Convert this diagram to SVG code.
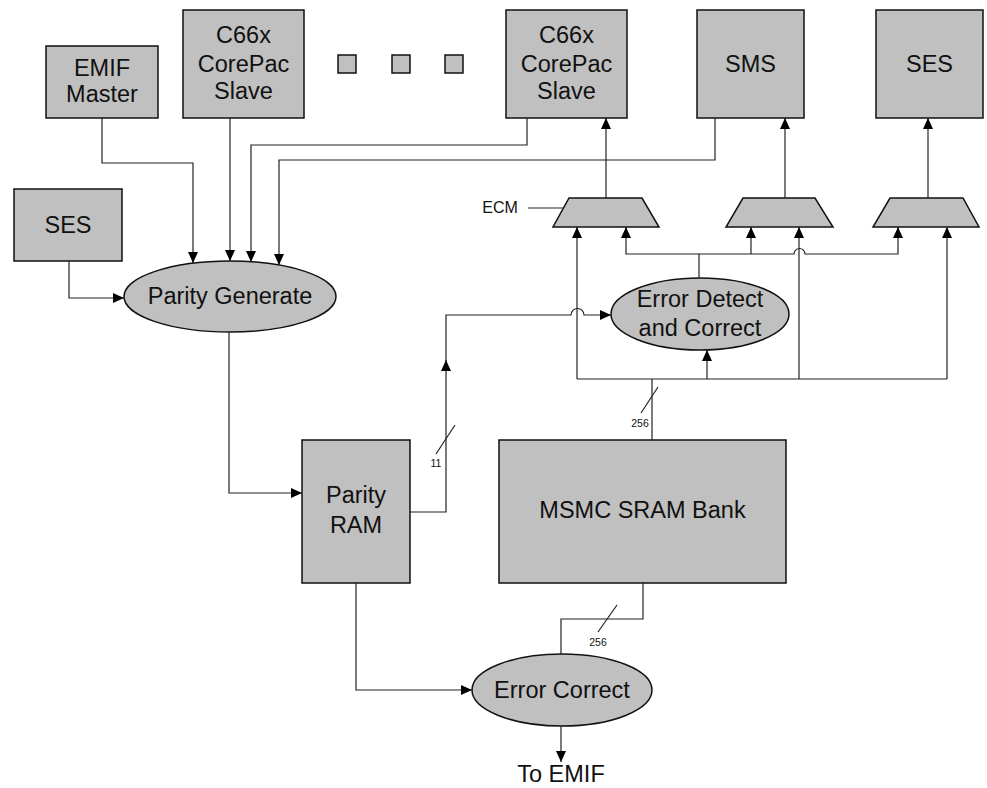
<svg xmlns="http://www.w3.org/2000/svg" width="987" height="788" viewBox="0 0 987 788">
<defs>
<marker id="ah" markerWidth="12" markerHeight="10" refX="11" refY="5" orient="auto" markerUnits="userSpaceOnUse">
<path d="M0,0 L11,5 L0,10 Z" fill="#000"/>
</marker>
<style>
.box{fill:#c0c0c0;stroke:#111;stroke-width:1.5}
.t{font-family:"Liberation Sans",Arial,sans-serif;font-size:23.5px;fill:#111;text-anchor:middle}
.s{font-family:"Liberation Sans",Arial,sans-serif;font-size:10.5px;fill:#111;text-anchor:middle}
.c{fill:none;stroke:#222;stroke-width:1.2}
.a{marker-end:url(#ah)}
</style>
</defs>
<rect width="987" height="788" fill="#fff"/>

<g id="emif-master"><rect class="box" x="46" y="46" width="112" height="72"/><text class="t" x="102" y="76">EMIF</text><text class="t" x="102" y="102">Master</text></g>
<g id="c66x-1"><rect class="box" x="183" y="10" width="121" height="108"/><text class="t" x="243.5" y="43">C66x</text><text class="t" x="243.5" y="72">CorePac</text><text class="t" x="243.5" y="99">Slave</text></g>
<g id="dots"><rect class="box" x="338" y="55" width="18" height="18" stroke-width="1"/><rect class="box" x="392" y="55" width="18" height="18" stroke-width="1"/><rect class="box" x="445" y="55" width="18" height="18" stroke-width="1"/></g>
<g id="c66x-2"><rect class="box" x="506" y="10" width="121" height="108"/><text class="t" x="566.5" y="43">C66x</text><text class="t" x="566.5" y="72">CorePac</text><text class="t" x="566.5" y="99">Slave</text></g>
<g id="sms"><rect class="box" x="697" y="10" width="107" height="108"/><text class="t" x="750.5" y="72">SMS</text></g>
<g id="ses-top"><rect class="box" x="876" y="10" width="107" height="108"/><text class="t" x="929.5" y="72">SES</text></g>
<g id="ses-left"><rect class="box" x="14" y="189" width="108" height="72"/><text class="t" x="68" y="233">SES</text></g>
<g id="parity-generate"><ellipse class="box" cx="230" cy="296.5" rx="106" ry="35.5"/><text class="t" x="230" y="304">Parity Generate</text></g>
<g id="mux1"><polygon class="box" points="569,198 642,198 659,227 553,227"/></g>
<g id="mux2"><polygon class="box" points="743,198 815,198 833,227 726,227"/></g>
<g id="mux3"><polygon class="box" points="890,198 963,198 979,227 873,227"/></g>
<g id="ecm-label"><text x="500" y="213" font-family="Liberation Sans, Arial, sans-serif" font-size="16" fill="#111" text-anchor="middle">ECM</text></g>
<g id="error-detect"><ellipse class="box" cx="700" cy="314" rx="89" ry="36"/><text class="t" x="700" y="307">Error Detect</text><text class="t" x="700" y="336">and Correct</text></g>
<g id="parity-ram"><rect class="box" x="302" y="440" width="108" height="143"/><text class="t" x="356" y="503">Parity</text><text class="t" x="356" y="533">RAM</text></g>
<g id="msmc"><rect class="box" x="499" y="440" width="287" height="143"/><text class="t" x="642.5" y="518">MSMC SRAM Bank</text></g>
<g id="error-correct"><ellipse class="box" cx="562" cy="690" rx="90" ry="36"/><text class="t" x="562" y="698">Error Correct</text></g>
<g id="to-emif"><text class="t" x="561" y="782">To EMIF</text></g>

<g id="connectors">
<path class="c a" d="M102,118 V163 H193 V263"/>
<path class="c a" d="M230,118 V261"/>
<path class="c a" d="M527,118 V145 H251 V262"/>
<path class="c a" d="M715,118 V160 H279 V265"/>
<path class="c a" d="M69,261 V298 H124"/>
<path class="c a" d="M229,332 V493 H302"/>
<path class="c a" d="M410,512 H446 V360"/>
<path class="c a" d="M446,362 V315 H571 a6.5,6.5 0 0 1 13,0 H611"/>
<path class="c" d="M436,454 L455,425"/>
<text class="s" x="436" y="467">11</text>
<path class="c" d="M652,440 V379"/>
<path class="c" d="M577,379 H947"/>
<path class="c a" d="M577,379 V227"/>
<path class="c a" d="M947,379 V227"/>
<path class="c a" d="M799,379 V227"/>
<path class="c a" d="M707,379 V350"/>
<path class="c" d="M699,278 V254"/>
<path class="c a" d="M699,254 H626 V227"/>
<path class="c a" d="M699,254 H794 a5.5,5.5 0 0 1 11,0 H898 V227"/>
<path class="c a" d="M751,254 V227"/>
<path class="c a" d="M606,198 V118"/>
<path class="c a" d="M785,198 V118"/>
<path class="c a" d="M928,198 V118"/>
<path class="c" d="M528,208 H564"/>
<path class="c" d="M641,413 L658,387"/>
<text class="s" x="640" y="427">256</text>
<path class="c a" d="M356,583 V690 H472"/>
<path class="c" d="M643,583 V619 H561 V654"/>
<path class="c" d="M598,632 L617,605"/>
<text class="s" x="598" y="646">256</text>
<path class="c a" d="M561,726 V762"/>
</g>
</svg>
